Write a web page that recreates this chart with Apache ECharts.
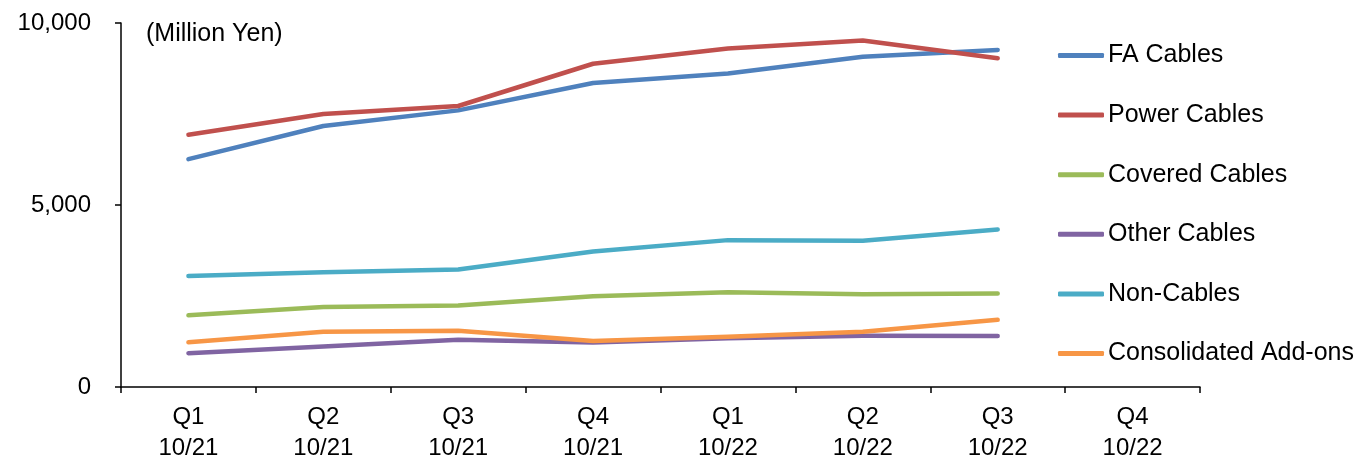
<!DOCTYPE html>
<html>
<head>
<meta charset="utf-8">
<script src="https://cdn.jsdelivr.net/npm/echarts@6/dist/echarts.min.js"></script>
<style>
  html, body { margin: 0; padding: 0; background: #fff; }
  #chart { width: 1368px; height: 457px; }
</style>
</head>
<body>
<div id="chart"></div>
<script>
// Quarterly sales by product segment (Million Yen)
const categories = ['Q1\n10/21', 'Q2\n10/21', 'Q3\n10/21', 'Q4\n10/21', 'Q1\n10/22', 'Q2\n10/22', 'Q3\n10/22', 'Q4\n10/22'];
const faCables = [6260, 7170, 7600, 8350, 8610, 9070, 9260, null];
const powerCables = [6930, 7500, 7720, 8880, 9300, 9520, 9030, null];
const coveredCables = [1970, 2200, 2240, 2490, 2600, 2545, 2570, null];
const otherCables = [930, 1110, 1300, 1220, 1340, 1405, 1400, null];
const nonCables = [3050, 3150, 3230, 3720, 4035, 4015, 4330, null];
const consolidatedAddOns = [1230, 1520, 1545, 1265, 1380, 1520, 1845, null];
const yTicks = [0, 5000, 10000];

const FONT = 'Liberation Sans, Arial, sans-serif';
const chart = echarts.init(document.getElementById('chart'));

function lineSeries(name, data, color) {
  return {
    name: name,
    type: 'line',
    data: data,
    showSymbol: false,
    symbol: 'none',
    connectNulls: false,
    lineStyle: { color: color, width: 4.5, cap: 'round', join: 'round' },
    itemStyle: { color: color },
    emphasis: { disabled: true },
    animation: false
  };
}

chart.setOption({
  backgroundColor: '#ffffff',
  animation: false,
  title: {
    text: '(Million Yen)',
    left: 146,
    top: 22,
    padding: 0,
    textStyle: { fontFamily: FONT, fontSize: 25, fontWeight: 'normal', color: '#000' }
  },
  grid: { left: 121, right: 168, top: 23, bottom: 70, containLabel: false, outerBoundsMode: 'none' },
  legend: {
    orient: 'vertical',
    left: 1058,
    top: 43,
    padding: 0,
    itemWidth: 46,
    itemHeight: 5,
    itemGap: 34.6,
    icon: 'roundRect',
    textStyle: { fontFamily: FONT, fontSize: 25, color: '#000', lineHeight: 24, padding: [0, 0, 0, -1] },
    selectedMode: false
  },
  xAxis: {
    type: 'category',
    data: categories,
    boundaryGap: true,
    axisLine: { lineStyle: { color: '#000', width: 1.5 } },
    axisTick: { show: true, length: 6, alignWithLabel: false, lineStyle: { color: '#000', width: 1.5 } },
    axisLabel: { fontFamily: FONT, fontSize: 24, color: '#000', lineHeight: 31, margin: 15, interval: 0 }
  },
  yAxis: {
    type: 'value',
    min: yTicks[0],
    max: yTicks[yTicks.length - 1],
    interval: yTicks[1] - yTicks[0],
    splitLine: { show: false },
    axisLine: { show: true, lineStyle: { color: '#000', width: 1.5 } },
    axisTick: { show: true, length: 6, lineStyle: { color: '#000', width: 1.5 } },
    axisLabel: {
      fontFamily: FONT, fontSize: 24, color: '#000', margin: 30,
      formatter: v => v.toLocaleString('en-US')
    }
  },
  series: [
    lineSeries('FA Cables', faCables, '#4F81BD'),
    lineSeries('Power Cables', powerCables, '#C0504D'),
    lineSeries('Covered Cables', coveredCables, '#9BBB59'),
    lineSeries('Other Cables', otherCables, '#8064A2'),
    lineSeries('Non-Cables', nonCables, '#4BACC6'),
    lineSeries('Consolidated Add-ons', consolidatedAddOns, '#F79646')
  ]
});
</script>
</body>
</html>
